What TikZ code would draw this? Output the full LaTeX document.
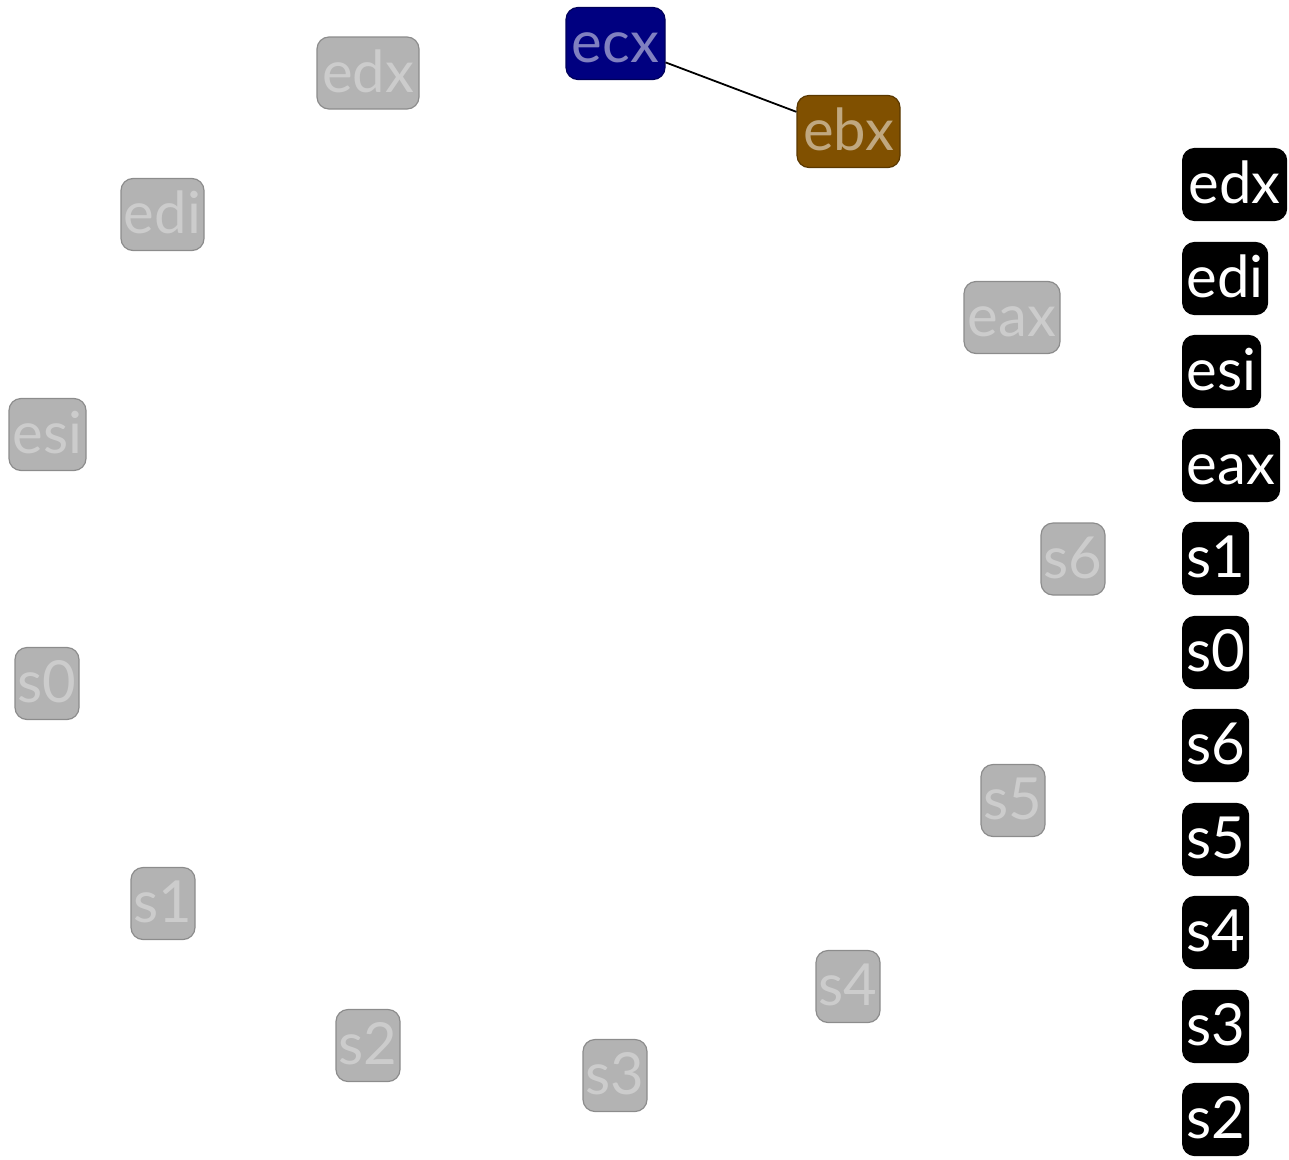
\documentclass[tikz,border=0pt]{standalone}
\usepackage{fontspec}
\setmainfont{Lato}
\definecolor{grayfill}{HTML}{B3B3B3}
\definecolor{graytext}{HTML}{CCCCCC}
\definecolor{grayline}{HTML}{8C8C8C}
\definecolor{bluefill}{HTML}{000080}
\definecolor{bluetext}{HTML}{8080C0}
\definecolor{blueline}{HTML}{00005A}
\definecolor{brownfill}{HTML}{805000}
\definecolor{browntext}{HTML}{C0A880}
\definecolor{brownline}{HTML}{5A3800}
\tikzset{
  base/.style={rounded corners=12pt, inner xsep=0pt, inner ysep=0pt,
    text height=55pt, text depth=17pt,
    font=\fontsize{58}{58}\selectfont, line width=1.2pt},
  grnode/.style={base, fill=grayfill, draw=grayline, text=graytext},
  bnode/.style={base, fill=bluefill, draw=blueline, text=bluetext},
  brnode/.style={base, fill=brownfill, draw=brownline, text=browntext},
  legnode/.style={base, fill=black, draw=black, text=white, anchor=west},
}
\begin{document}
\begin{tikzpicture}[x=1pt,y=-1pt]
\useasboundingbox (0,0) rectangle (1289,1159);
\node[bnode, minimum width=99pt] (ecx) at (615.5,43.5) {ecx};
\node[brnode, minimum width=103pt] (ebx) at (848.5,131.5) {ebx};
\node[grnode, minimum width=102pt] (edx) at (368,73) {edx};
\node[grnode, minimum width=83pt] (edi) at (162.5,214.5) {edi};
\node[grnode, minimum width=96pt] (eax) at (1012,317.5) {eax};
\node[grnode, minimum width=77pt] (esi) at (47.5,434.5) {esi};
\node[grnode, minimum width=64pt] (s6) at (1073,559) {s6};
\node[grnode, minimum width=64pt] (s0) at (47,683.5) {s0};
\node[grnode, minimum width=64pt] (s5) at (1013,800.5) {s5};
\node[grnode, minimum width=64pt] (s1) at (163,903.5) {s1};
\node[grnode, minimum width=64pt] (s4) at (848,986.5) {s4};
\node[grnode, minimum width=64pt] (s2) at (368,1045.5) {s2};
\node[grnode, minimum width=64pt] (s3) at (615,1075.5) {s3};
\draw[line width=1.8pt] (ecx) -- (ebx);
\node[legnode, minimum width=104pt] (ledx) at (1182,184.5) {edx};
\node[legnode, minimum width=85pt] (ledi) at (1182,278.5) {edi};
\node[legnode, minimum width=78pt] (lesi) at (1182,371.5) {esi};
\node[legnode, minimum width=97pt] (leax) at (1182,465.5) {eax};
\node[legnode, minimum width=66pt] (ls1) at (1182,558.5) {s1};
\node[legnode, minimum width=66pt] (ls0) at (1182,652.5) {s0};
\node[legnode, minimum width=66pt] (ls6) at (1182,745.5) {s6};
\node[legnode, minimum width=66pt] (ls5) at (1182,839.5) {s5};
\node[legnode, minimum width=66pt] (ls4) at (1182,932.5) {s4};
\node[legnode, minimum width=66pt] (ls3) at (1182,1026.5) {s3};
\node[legnode, minimum width=66pt] (ls2) at (1182,1119.5) {s2};
\end{tikzpicture}
\end{document}
